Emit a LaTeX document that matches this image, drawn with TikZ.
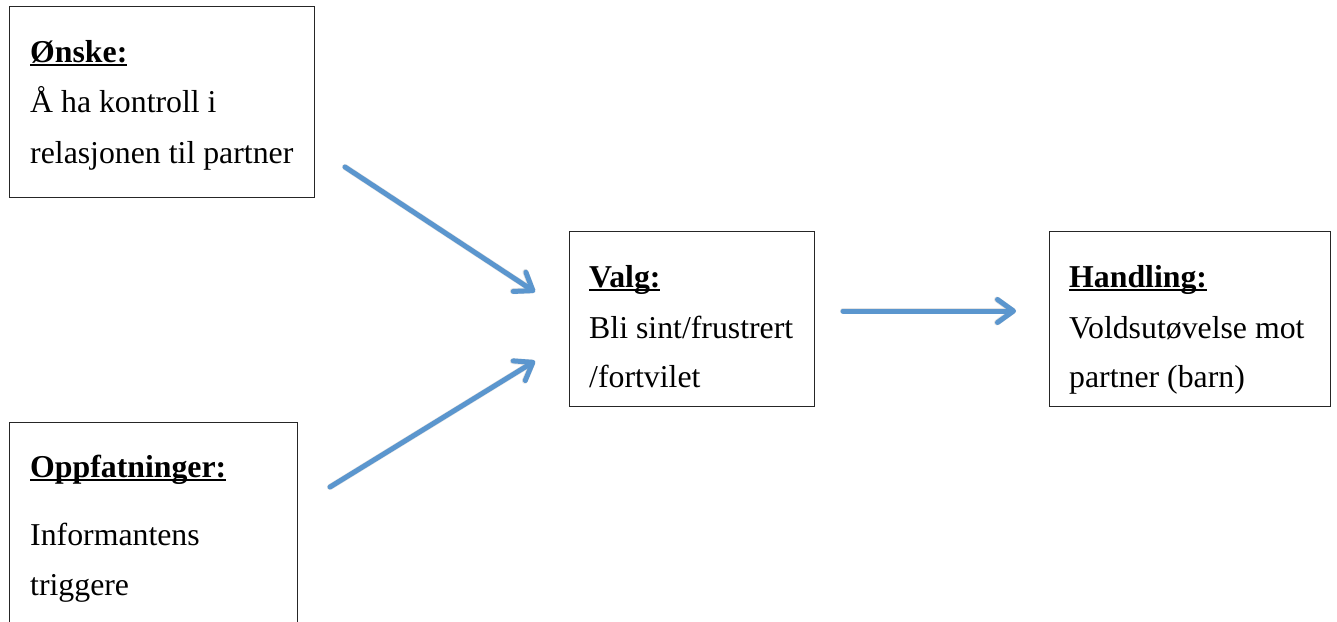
\documentclass[tikz,border=0pt]{standalone}
\usepackage{fontspec}
\setmainfont{Liberation Serif}
\usetikzlibrary{arrows.meta}
\definecolor{flowblue}{RGB}{91,150,206}
% bold heading with a low underline that runs through the descenders
\newcommand\headline[1]{\sbox0{\bfseries #1}\rlap{\rule[-3.6pt]{\wd0}{1.6pt}}\usebox0}
\tikzset{
  box/.style={draw=black!85, line width=1.3pt, anchor=north west, inner sep=0pt},
  txt/.style={anchor=base west, inner sep=0pt, font=\fontsize{31.8}{40}\selectfont},
  flow/.style={draw=flowblue, line width=5pt, line cap=round,
    -{Straight Barb[length=16pt, width=23pt, round]}},
  flowshadow/.style={draw=black!22, line width=6pt, line cap=round, opacity=0.5,
    -{Straight Barb[length=16pt, width=23pt, round]}}
}
\begin{document}
\begin{tikzpicture}[x=1pt, y=-1pt]
\useasboundingbox (0,0) rectangle (1337,621);
\clip (0,0) rectangle (1337,621);

% boxes
\node[box, minimum width=305pt, minimum height=191pt] (wish) at (9,6) {};
\node[box, minimum width=245pt, minimum height=175pt] (choice) at (569,231) {};
\node[box, minimum width=281pt, minimum height=175pt] (act) at (1049,231) {};
\node[box, minimum width=288pt, minimum height=260pt] (belief) at (9,422) {};

% box texts
\node[txt] (wish1) at (30,62) {\headline{Ønske:}};
\node[txt] (wish2) at (30,112) {Å ha kontroll i};
\node[txt] (wish3) at (30,163) {relasjonen til partner};

\node[txt] (choice1) at (589,287) {\headline{Valg:}};
\node[txt] (choice2) at (589,338) {Bli sint/frustrert};
\node[txt] (choice3) at (589,387) {/fortvilet};

\node[txt] (act1) at (1069,287) {\headline{Handling:}};
\node[txt] (act2) at (1069,338) {Voldsutøvelse mot};
\node[txt] (act3) at (1069,387) {partner (barn)};

\node[txt] (belief1) at (30,477) {\headline{Oppfatninger:}};
\node[txt] (belief2) at (30,545) {Informantens};
\node[txt] (belief3) at (30,595) {triggere};

% arrow end points in the gaps between the boxes
\coordinate (a1s) at (345,167);
\coordinate (a1e) at (535,292);
\coordinate (a2s) at (330,487);
\coordinate (a2e) at (535,361);
\coordinate (a3s) at (843,311);
\coordinate (a3e) at (1016,311);

% soft shadows under the arrows
\begin{scope}[xshift=1.5pt, yshift=-2pt]
  \draw[flowshadow] (a1s) -- (a1e);
  \draw[flowshadow] (a2s) -- (a2e);
  \draw[flowshadow] (a3s) -- (a3e);
\end{scope}

% arrows
\draw[flow] (a1s) -- (a1e);
\draw[flow] (a2s) -- (a2e);
\draw[flow] (a3s) -- (a3e);
\end{tikzpicture}
\end{document}
